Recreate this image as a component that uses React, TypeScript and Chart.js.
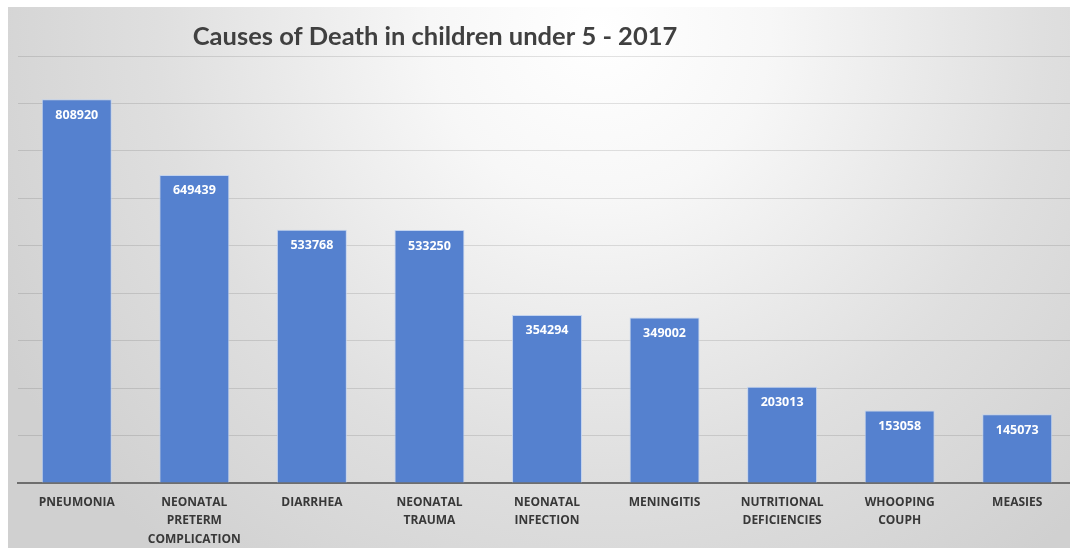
import React, { useEffect, useRef } from "react";
import { Chart, registerables } from "chart.js";

Chart.register(...registerables);

const chartTitle = "Causes of Death in children under 5 - 2017";
const categories: string[][] = [
  ["PNEUMONIA"],
  ["NEONATAL", "PRETERM", "COMPLICATION"],
  ["DIARRHEA"],
  ["NEONATAL", "TRAUMA"],
  ["NEONATAL", "INFECTION"],
  ["MENINGITIS"],
  ["NUTRITIONAL", "DEFICIENCIES"],
  ["WHOOPING", "COUPH"],
  ["MEASIES"],
];
const deaths: number[] = [808920, 649439, 533768, 533250, 354294, 349002, 203013, 153058, 145073];
const yMax = 900000;
const yStep = 100000;

const FONT = "Lato, 'Open Sans', 'DejaVu Sans', sans-serif";
const LABEL_FONT = "'Open Sans', Lato, 'DejaVu Sans', sans-serif";

const backgroundPlugin = {
  id: "bgPlugin",
  beforeDraw(chart: any) {
    const { ctx, width, height } = chart;
    ctx.save();
    ctx.fillStyle = "#ffffff";
    ctx.fillRect(0, 0, width, height);
    const g = ctx.createRadialGradient(600, 30, 0, 600, 30, 680);
    g.addColorStop(0, "#ffffff");
    g.addColorStop(0.25, "#f7f7f7");
    g.addColorStop(0.65, "#dfdfdf");
    g.addColorStop(1, "#d0d0d0");
    ctx.fillStyle = g;
    ctx.fillRect(8, 7, width - 8, height - 7);
    ctx.restore();
  },
};

const titlePlugin = {
  id: "titlePlugin",
  afterDraw(chart: any) {
    const { ctx } = chart;
    ctx.save();
    ctx.font = `bold 25.5px ${FONT}`;
    ctx.fillStyle = "#404040";
    ctx.textAlign = "center";
    ctx.textBaseline = "middle";
    ctx.fillText(chartTitle, 435, 37);
    ctx.restore();
  },
};

const valueLabelPlugin = {
  id: "valueLabels",
  afterDatasetsDraw(chart: any) {
    const { ctx } = chart;
    const meta = chart.getDatasetMeta(0);
    ctx.save();
    ctx.font = `bold 12.5px ${LABEL_FONT}`;
    ctx.fillStyle = "#ffffff";
    ctx.textAlign = "center";
    ctx.textBaseline = "middle";
    meta.data.forEach((bar: any, i: number) => {
      ctx.fillText(String(deaths[i]), bar.x, bar.y + 16);
    });
    ctx.restore();
  },
};

export default function App() {
  const canvasRef = useRef<HTMLCanvasElement | null>(null);

  useEffect(() => {
    if (!canvasRef.current) return;
    const chart = new Chart(canvasRef.current, {
      type: "bar",
      data: {
        labels: categories,
        datasets: [
          {
            data: deaths,
            backgroundColor: "#5581cf",
            borderColor: "rgba(190,208,240,0.9)",
            borderWidth: 1,
            categoryPercentage: 1,
            barPercentage: 0.595,
          },
        ],
      },
      options: {
        responsive: false,
        animation: false,
        layout: { padding: { top: 56, left: 18, right: 4, bottom: 0 } },
        plugins: {
          legend: { display: false },
          title: { display: false },
          tooltip: { enabled: false },
        },
        scales: {
          x: {
            grid: { display: false, drawTicks: false },
            border: { display: true, color: "#6e6e6e", width: 2 },
            ticks: {
              autoSkip: false,
              maxRotation: 0,
              minRotation: 0,
              padding: 10,
              color: "#383838",
              font: { family: LABEL_FONT, size: 12, weight: "bold", lineHeight: 1.55 },
            },
            afterFit: (scale: any) => {
              scale.height = 548 - 483;
            },
          },
          y: {
            min: 0,
            max: yMax,
            ticks: { display: false, stepSize: yStep },
            grid: { color: "rgba(0,0,0,0.11)", drawTicks: false, lineWidth: 1 },
            border: { display: false },
            afterFit: (scale: any) => {
              scale.width = 0;
            },
          },
        },
      },
      plugins: [backgroundPlugin, titlePlugin, valueLabelPlugin],
    });
    return () => chart.destroy();
  }, []);

  return (
    <div style={{ position: "absolute", left: 0, top: 0, width: 1070, height: 548, overflow: "hidden" }}>
      <canvas ref={canvasRef} width={1080} height={548} style={{ display: "block" }} />
    </div>
  );
}
